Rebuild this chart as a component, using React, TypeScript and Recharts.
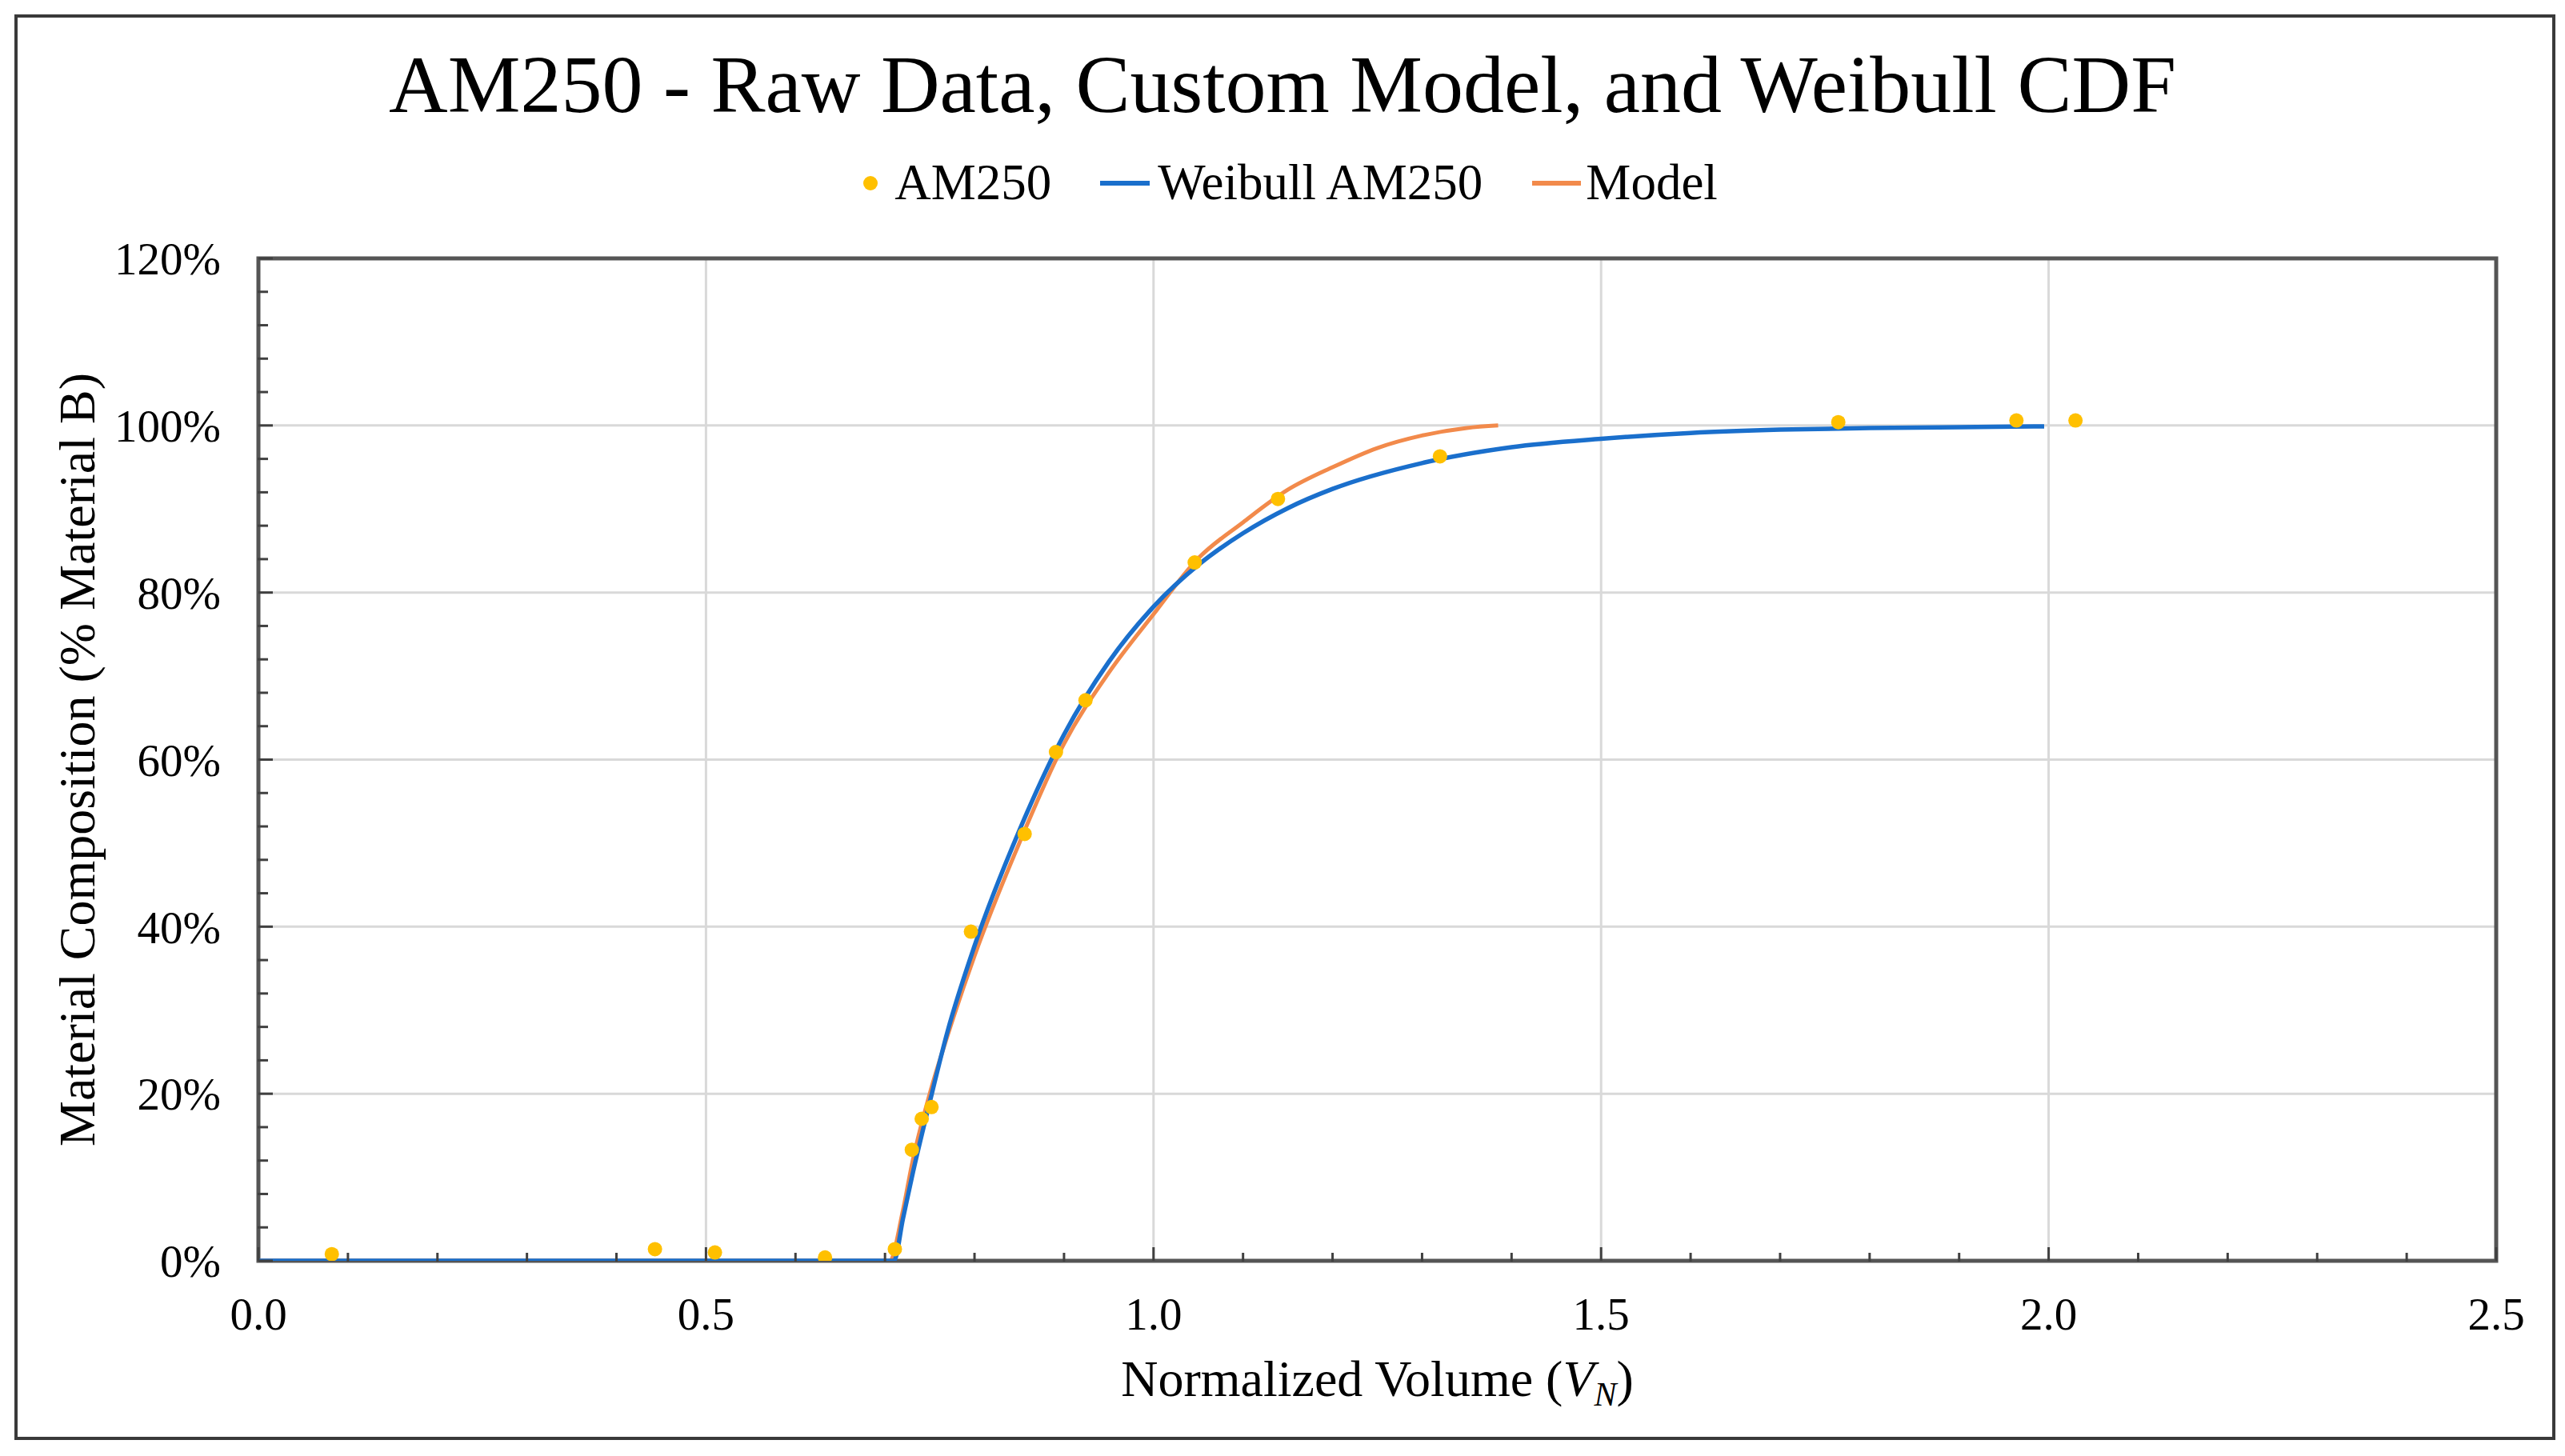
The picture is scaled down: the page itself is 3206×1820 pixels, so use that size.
import { ComposedChart, Line, Scatter, XAxis, YAxis, CartesianGrid, Legend, ReferenceArea } from "recharts";

// raw measurements (Normalized Volume, % Material B)
const rawX = [0.082, 0.443, 0.51, 0.633, 0.711, 0.73, 0.741, 0.752, 0.796, 0.856, 0.891, 0.924, 1.046, 1.139, 1.32, 1.765, 1.964, 2.03];
const rawY = [0.8, 1.4, 1.0, 0.4, 1.4, 13.3, 17.0, 18.4, 39.4, 51.1, 60.9, 67.1, 83.6, 91.2, 96.3, 100.4, 100.6, 100.6];

// Weibull CDF curve
const weibullX = [0, 0.71, 0.72, 0.73, 0.75, 0.77, 0.8, 0.85, 0.9, 0.95, 1.0, 1.05, 1.1, 1.15, 1.2, 1.3, 1.4, 1.5, 1.6, 1.7, 1.8, 1.9, 1.995];
const weibullY = [0, 0, 5.0, 10.0, 19.0, 27.5, 37.7, 51.5, 63.0, 71.7, 78.3, 83.3, 87.1, 90.1, 92.4, 95.5, 97.4, 98.4, 99.1, 99.5, 99.7, 99.8, 99.9];

// custom model curve
const modelX = [0, 0.705, 0.72, 0.73, 0.75, 0.77, 0.8, 0.85, 0.9, 0.95, 1.0, 1.05, 1.1, 1.15, 1.2, 1.25, 1.3, 1.35, 1.385];
const modelY = [0, 0, 6.0, 11.5, 20.0, 27.0, 36.5, 50.0, 61.9, 70.4, 77.4, 84.1, 88.4, 92.3, 95.0, 97.3, 98.8, 99.7, 100];

const xMajorTicks = [0, 0.5, 1.0, 1.5, 2.0, 2.5];
const xMinorTicks = [0.1, 0.2, 0.3, 0.4, 0.6, 0.7, 0.8, 0.9, 1.1, 1.2, 1.3, 1.4, 1.6, 1.7, 1.8, 1.9, 2.1, 2.2, 2.3, 2.4];
const yMajorTicks = [0, 20, 40, 60, 80, 100, 120];
const yMinorTicks = [4, 8, 12, 16, 24, 28, 32, 36, 44, 48, 52, 56, 64, 68, 72, 76, 84, 88, 92, 96, 104, 108, 112, 116];

const toPoints = (xs: number[], ys: number[]) => xs.map((x, i) => ({ x, y: ys[i] }));

const rawData = toPoints(rawX, rawY);
const weibullData = toPoints(weibullX, weibullY);
const modelData = toPoints(modelX, modelY);

const FONT = '"Liberation Serif", "Times New Roman", serif';
const YELLOW = "#FFC000";
const BLUE = "#1A6FCC";
const ORANGE = "#F28A4B";
const AXIS = "#555555";
const TICK = "#404040";

const X_MARGIN = 46;
const Y_MARGIN = 47;

const LegendContent = () => (
  <div style={{ display: "flex", justifyContent: "center", alignItems: "center", paddingLeft: 20, fontFamily: FONT, fontSize: 63, lineHeight: "63px", color: "#000" }}>
    <svg width={18} height={18} style={{ marginRight: 21 }}><circle cx={9} cy={9} r={9} fill={YELLOW} /></svg>
    <span style={{ marginRight: 61 }}>AM250</span>
    <svg width={62} height={8} style={{ marginRight: 10 }}><line x1={0} x2={62} y1={4} y2={4} stroke={BLUE} strokeWidth={6} /></svg>
    <span style={{ marginRight: 62 }}>Weibull AM250</span>
    <svg width={61} height={8} style={{ marginRight: 6 }}><line x1={0} x2={61} y1={4} y2={4} stroke={ORANGE} strokeWidth={6} /></svg>
    <span>Model</span>
  </div>
);

// major x tick: inward tick mark + label below the axis
const XMajorTick = ({ x, y, payload }: any) => (
  <g>
    <line x1={x} x2={x} y1={y - X_MARGIN} y2={y - X_MARGIN - 17} stroke={TICK} strokeWidth={3} />
    <text x={x} y={y} dy="0.71em" textAnchor="middle" fontFamily={FONT} fontSize={57} fill="#000">
      {Number(payload.value).toFixed(1)}
    </text>
  </g>
);

const XMinorTick = ({ x, y }: any) => <line x1={x} x2={x} y1={y} y2={y - 11} stroke={TICK} strokeWidth={3} />;

const YMajorTick = ({ x, y, payload }: any) => (
  <g>
    <line x1={x + Y_MARGIN} x2={x + Y_MARGIN + 18} y1={y} y2={y} stroke={TICK} strokeWidth={3} />
    <text x={x} y={y} dy="0.355em" textAnchor="end" fontFamily={FONT} fontSize={57} fill="#000">
      {`${payload.value}%`}
    </text>
  </g>
);

const YMinorTick = ({ x, y }: any) => <line x1={x} x2={x + 13} y1={y} y2={y} stroke={TICK} strokeWidth={3} />;

const XTitle = ({ viewBox }: any) => {
  const cx = viewBox.x + viewBox.width / 2;
  const y = viewBox.y + 169;
  return (
    <text x={cx} y={y} textAnchor="middle" fontFamily={FONT} fontSize={64} fill="#000">
      <tspan>Normalized Volume (</tspan>
      <tspan fontStyle="italic">V</tspan>
      <tspan fontStyle="italic" fontSize={42} dy={12}>N</tspan>
      <tspan dy={-12}>)</tspan>
    </text>
  );
};

const YTitle = ({ viewBox }: any) => {
  const x = viewBox.x + viewBox.width - 205;
  const cy = viewBox.y + viewBox.height / 2;
  return (
    <text x={x} y={cy} transform={`rotate(-90, ${x}, ${cy})`} textAnchor="middle" fontFamily={FONT} fontSize={64} fill="#000">
      Material Composition (% Material B)
    </text>
  );
};

const Dot = (props: any) => <circle cx={props.cx} cy={props.cy} r={9} fill={YELLOW} />;

export default function App() {
  return (
    <div style={{ position: "absolute", left: 0, top: 0, width: 3206, height: 1820, background: "#fff", fontFamily: FONT }}>
      <div style={{ position: "absolute", left: 18, top: 18, width: 3176, height: 1782, border: "4px solid #3a3a3a", boxSizing: "border-box" }} />
      <div style={{ position: "absolute", left: 0, top: 55, width: 3206, textAlign: "center", fontSize: 102, lineHeight: "102px", color: "#000" }}>
        AM250 - Raw Data, Custom Model, and Weibull CDF
      </div>
      <div style={{ position: "absolute", left: 0, top: 0 }}>
        <ComposedChart width={3206} height={1820} margin={{ top: 323, right: 86, bottom: 242, left: 321 }}>
          <CartesianGrid stroke="#d9d9d9" strokeWidth={3} />
          <XAxis
            xAxisId="minor"
            dataKey="x"
            type="number"
            domain={[0, 2.5]}
            allowDataOverflow
            ticks={xMinorTicks}
            interval={0}
            tick={<XMinorTick />}
            tickSize={0}
            tickMargin={0}
            tickLine={false}
            axisLine={false}
            height={1}
          />
          <XAxis
            dataKey="x"
            type="number"
            domain={[0, 2.5]}
            allowDataOverflow
            ticks={xMajorTicks}
            interval={0}
            tick={<XMajorTick />}
            tickSize={0}
            tickMargin={X_MARGIN}
            tickLine={false}
            axisLine={false}
            height={1}
            label={<XTitle />}
          />
          <YAxis
            yAxisId="minor"
            type="number"
            domain={[0, 120]}
            allowDataOverflow
            ticks={yMinorTicks}
            interval={0}
            tick={<YMinorTick />}
            tickSize={0}
            tickMargin={0}
            tickLine={false}
            axisLine={false}
            width={1}
          />
          <YAxis
            type="number"
            domain={[0, 120]}
            allowDataOverflow
            ticks={yMajorTicks}
            interval={0}
            tick={<YMajorTick />}
            tickSize={0}
            tickMargin={Y_MARGIN}
            tickLine={false}
            axisLine={false}
            width={1}
            label={<YTitle />}
          />
          <ReferenceArea x1={0} x2={2.5} y1={0} y2={120} fill="none" stroke={AXIS} strokeWidth={5} />
          <Legend verticalAlign="middle" layout="horizontal" align="center" wrapperStyle={{ top: 197, left: 0, width: 3206 }} content={<LegendContent />} />
          <Line data={modelData} dataKey="y" type="monotone" stroke={ORANGE} strokeWidth={5} dot={false} isAnimationActive={false} name="Model" />
          <Line data={weibullData} dataKey="y" type="monotone" stroke={BLUE} strokeWidth={5.5} dot={false} isAnimationActive={false} name="Weibull AM250" />
          <Scatter data={rawData} dataKey="y" fill={YELLOW} shape={<Dot />} isAnimationActive={false} name="AM250" />
        </ComposedChart>
      </div>
    </div>
  );
}
